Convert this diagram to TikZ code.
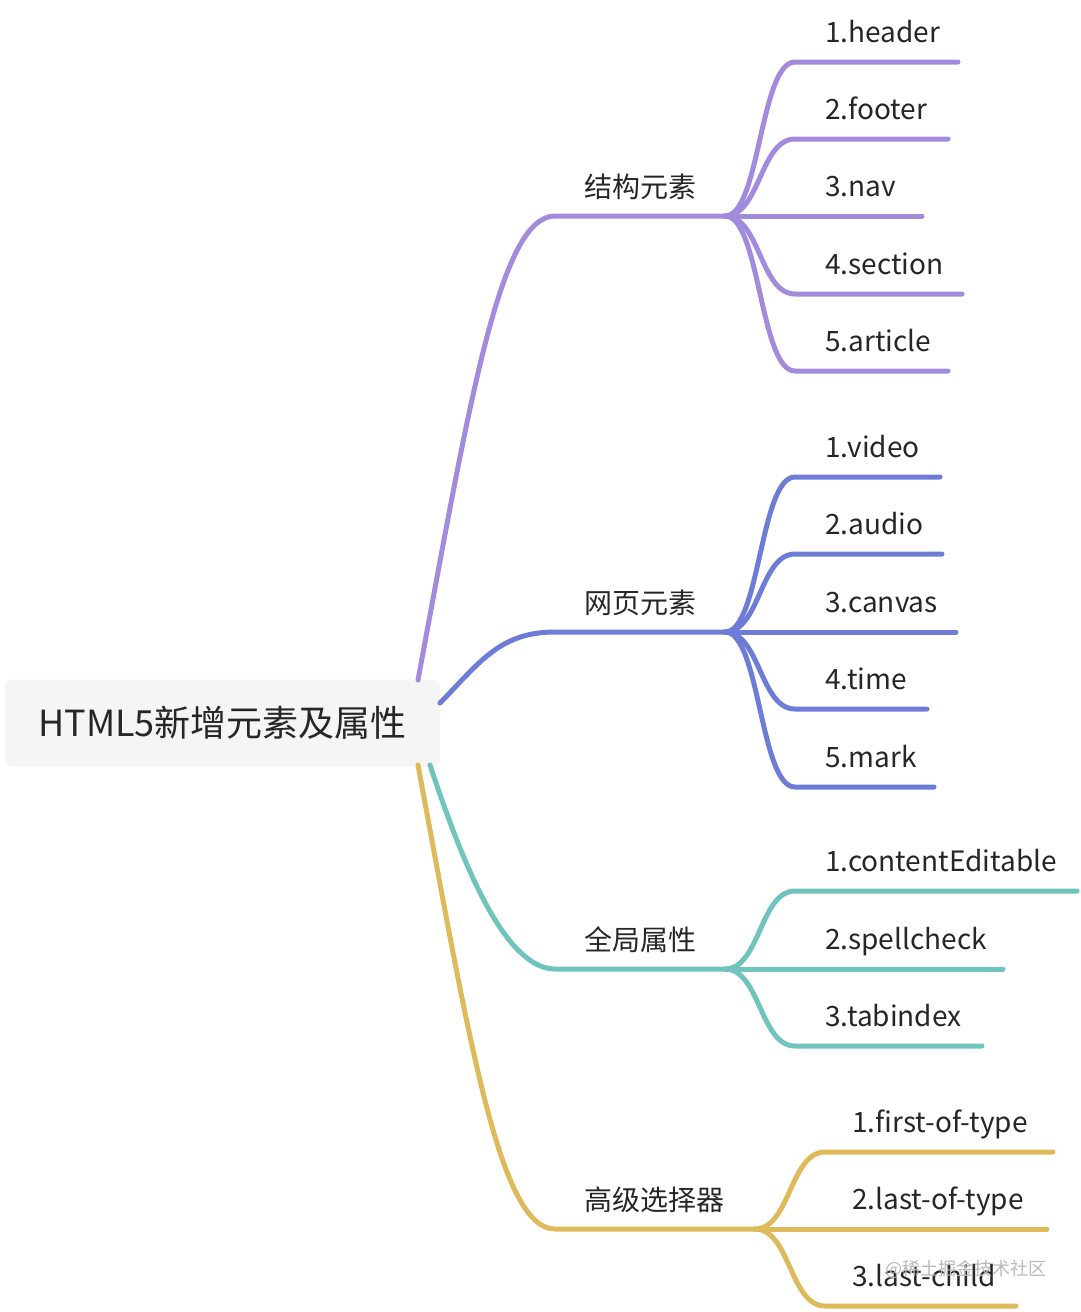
\documentclass[tikz,border=0pt]{standalone}
\usepackage{fontspec}
\setmainfont{Noto Sans CJK SC}
\usepackage{xcolor}
\usepackage{tikz}
\usetikzlibrary{positioning}

\definecolor{txtgray}{RGB}{38,38,38}
\definecolor{rootgray}{RGB}{245,245,245}
\definecolor{markgray}{RGB}{185,185,185}
\definecolor{lilac}{RGB}{162,139,220}
\definecolor{indigo}{RGB}{109,124,214}
\definecolor{tealgreen}{RGB}{112,196,190}
\definecolor{mustard}{RGB}{223,186,90}

\begin{document}
\begin{tikzpicture}[x=1pt, y=-1pt, line cap=round, line join=round]

\tikzstyle{root}=[
    fill=rootgray,
    rounded corners=8pt,
    minimum width=435,
    minimum height=87,
    text=txtgray,
    font=\fontsize{36}{40}\selectfont
]
\tikzstyle{topic}=[anchor=base west, inner sep=0, text=txtgray, font=\fontsize{28}{32}\selectfont]
\tikzstyle{leaf}=[topic]
\tikzstyle{branch}=[line width=5pt]

\useasboundingbox (0,0) rectangle (1080,1312);

% root
\node[root] (Root) at (222.5,723) {HTML5新增元素及属性};
\coordinate (R_1) at (418,680);
\coordinate (R_2) at (440,703);
\coordinate (R_3) at (430,765);
\coordinate (R_4) at (418,765);

% topics
\node[topic] (T_1) at (584,197) {结构元素};
\node[topic] (T_2) at (584,613) {网页元素};
\node[topic] (T_3) at (584,950) {全局属性};
\node[topic] (T_4) at (584,1210) {高级选择器};
\coordinate (A_1) at (555,216);  \coordinate (J_1) at (725,216);
\coordinate (A_2) at (555,632);  \coordinate (J_2) at (725,632);
\coordinate (A_3) at (555,969);  \coordinate (J_3) at (725,969);
\coordinate (A_4) at (555,1229); \coordinate (J_4) at (755,1229);

\draw[branch, lilac] (R_1) .. controls (470,400) and (500,216) .. (A_1) -- (J_1);
\draw[branch, indigo] (R_2) .. controls (480,662) and (500,632) .. (A_2) -- (J_2);
\draw[branch, tealgreen] (R_3) .. controls (455,840) and (500,969) .. (A_3) -- (J_3);
\draw[branch, mustard] (R_4) .. controls (470,1045) and (500,1229) .. (A_4) -- (J_4);

% leaves of 结构元素
\node[leaf] (S_1) at (825,42) {1.header};
\node[leaf] (S_2) at (825,119) {2.footer};
\node[leaf] (S_3) at (825,196) {3.nav};
\node[leaf] (S_4) at (825,274) {4.section};
\node[leaf] (S_5) at (825,351) {5.article};
\draw[branch, lilac] (J_1) .. controls (760,216) and (760,62) .. (795,62) -- (958,62);
\draw[branch, lilac] (J_1) .. controls (760,216) and (760,139) .. (795,139) -- (948,139);
\draw[branch, lilac] (J_1) -- (922,216);
\draw[branch, lilac] (J_1) .. controls (760,216) and (760,294) .. (795,294) -- (962,294);
\draw[branch, lilac] (J_1) .. controls (760,216) and (760,371) .. (795,371) -- (948,371);

% leaves of 网页元素
\node[leaf] (W_1) at (825,457) {1.video};
\node[leaf] (W_2) at (825,534) {2.audio};
\node[leaf] (W_3) at (825,612) {3.canvas};
\node[leaf] (W_4) at (825,689) {4.time};
\node[leaf] (W_5) at (825,767) {5.mark};
\draw[branch, indigo] (J_2) .. controls (760,632) and (760,477) .. (795,477) -- (940,477);
\draw[branch, indigo] (J_2) .. controls (760,632) and (760,554) .. (795,554) -- (942,554);
\draw[branch, indigo] (J_2) -- (956,632);
\draw[branch, indigo] (J_2) .. controls (760,632) and (760,709) .. (795,709) -- (927,709);
\draw[branch, indigo] (J_2) .. controls (760,632) and (760,787) .. (795,787) -- (934,787);

% leaves of 全局属性
\node[leaf] (G_1) at (825,871) {1.contentEditable};
\node[leaf] (G_2) at (825,949) {2.spellcheck};
\node[leaf] (G_3) at (825,1026) {3.tabindex};
\draw[branch, tealgreen] (J_3) .. controls (760,969) and (760,891) .. (795,891) -- (1077,891);
\draw[branch, tealgreen] (J_3) -- (1003,969);
\draw[branch, tealgreen] (J_3) .. controls (760,969) and (760,1046) .. (795,1046) -- (982,1046);

% leaves of 高级选择器
\node[leaf] (X_1) at (852,1132) {1.first-of-type};
\node[leaf] (X_2) at (852,1209) {2.last-of-type};
\node[leaf] (X_3) at (852,1286) {3.last-child};
\draw[branch, mustard] (J_4) .. controls (790,1229) and (790,1152) .. (825,1152) -- (1053,1152);
\draw[branch, mustard] (J_4) -- (1047,1229);
\draw[branch, mustard] (J_4) .. controls (790,1229) and (790,1306) .. (825,1306) -- (1016,1306);

% watermark
\node[anchor=base east, inner sep=0, text=markgray, font=\fontsize{18}{20}\selectfont] (Mark) at (1047,1275) {@稀土掘金技术社区};

\end{tikzpicture}
\end{document}
